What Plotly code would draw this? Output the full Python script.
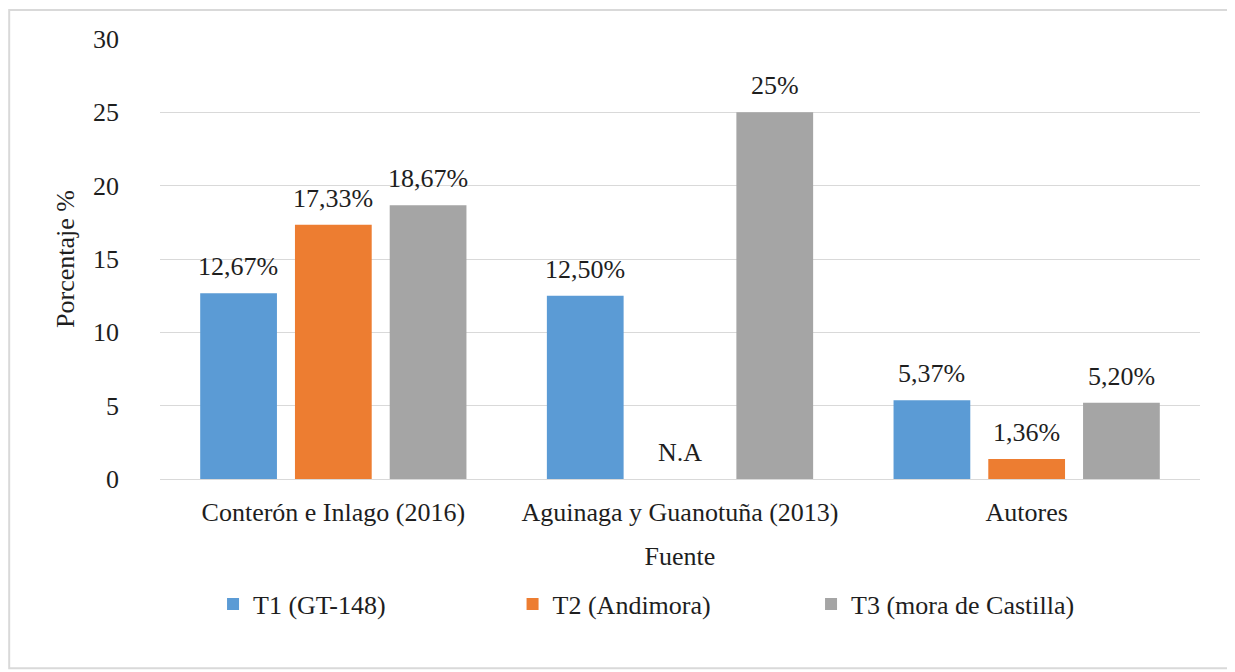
import plotly.graph_objects as go

categories = ["Conterón e Inlago (2016)", "Aguinaga y Guanotuña (2013)", "Autores"]
series_names = ["T1 (GT-148)", "T2 (Andimora)", "T3 (mora de Castilla)"]
t1_values = [12.67, 12.50, 5.37]
t2_values = [17.33, None, 1.36]
t3_values = [18.67, 25.0, 5.20]
t1_labels = ["12,67%", "12,50%", "5,37%"]
t2_labels = ["17,33%", "N.A", "1,36%"]
t3_labels = ["18,67%", "25%", "5,20%"]
y_ticks = [0, 5, 10, 15, 20, 25, 30]

colors = ["#5B9BD5", "#ED7D31", "#A5A5A5"]
FONT = "Liberation Serif, Tinos, Times New Roman, DejaVu Serif, serif"
TXT = "#1e1e1e"
FS = 26

fig = go.Figure()
all_vals = [t1_values, t2_values, t3_values]
all_labels = [t1_labels, t2_labels, t3_labels]
legend_ids = ["legend", "legend2", "legend3"]
for name, vals, col, lg in zip(series_names, all_vals, colors, legend_ids):
    fig.add_trace(go.Bar(
        x=categories, y=vals, name=name, legend=lg,
        marker=dict(color=col, line=dict(width=0)),
    ))

slot_px = 95
for j, (vals, labs) in enumerate(zip(all_vals, all_labels)):
    for cat, v, lab in zip(categories, vals, labs):
        yv = v if v is not None else 0
        fig.add_annotation(
            x=cat, y=yv, text=lab, showarrow=False,
            xref="x", yref="y", yanchor="bottom",
            xshift=(j - 1) * slot_px, yshift=10,
            font=dict(family=FONT, size=FS, color=TXT),
        )

fig.add_shape(type="rect", xref="paper", yref="paper",
              x0=-0.145, x1=1.029, y0=-0.43, y1=1.066,
              line=dict(color="#d9d9d9", width=2), fillcolor="rgba(0,0,0,0)", layer="below")

leg_common = dict(orientation="h", xanchor="left", y=-0.231, yanchor="top",
                  font=dict(family=FONT, size=FS, color=TXT), itemwidth=30,
                  bgcolor="rgba(0,0,0,0)")

fig.update_layout(
    width=1235, height=672,
    paper_bgcolor="white", plot_bgcolor="white",
    margin=dict(l=152, r=43, t=31, b=201),
    barmode="group", bargap=0.18, bargroupgap=0.19,
    font=dict(family=FONT, size=FS, color=TXT),
    showlegend=True,
    legend=dict(x=0.051, **leg_common),
    legend2=dict(x=0.339, **leg_common),
    legend3=dict(x=0.626, **leg_common),
    xaxis=dict(
        title=dict(text="Fuente", font=dict(family=FONT, size=FS, color=TXT), standoff=20),
        tickfont=dict(family=FONT, size=FS, color=TXT),
        showgrid=False, showline=True, linecolor="#d9d9d9", linewidth=1,
        ticks="", ticklen=0, ticklabelstandoff=10,
    ),
    yaxis=dict(
        title=dict(text="Porcentaje %", font=dict(family=FONT, size=FS, color=TXT), standoff=10),
        tickfont=dict(family=FONT, size=FS, color=TXT),
        range=[0, 30], tickvals=y_ticks, ticktext=[str(t) for t in y_ticks],
        showgrid=True, gridcolor="#d9d9d9", gridwidth=1,
        zeroline=True, zerolinecolor="#d9d9d9", zerolinewidth=1,
        ticks="", ticklabelstandoff=40,
    ),
)

fig.write_html("out.html")
